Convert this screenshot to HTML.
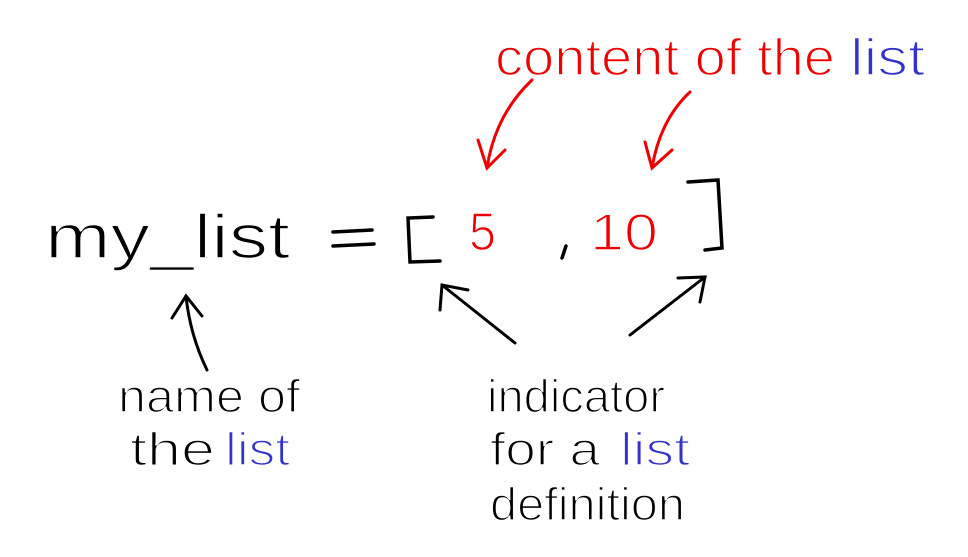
<!DOCTYPE html>
<html><head><meta charset="utf-8"><style>
html,body{margin:0;padding:0;background:#fff;}
svg{display:block;}
text{font-family:"Liberation Sans",sans-serif;stroke:#fff;stroke-width:1.6px;}
</style></head><body>
<svg width="968" height="557" viewBox="0 0 968 557" xmlns="http://www.w3.org/2000/svg">
<rect width="968" height="557" fill="#fff"/>
<text x="45" y="258" font-size="62" fill="#000" textLength="245" lengthAdjust="spacingAndGlyphs">my_list</text>
<g stroke="#000" stroke-width="3.5" fill="none" stroke-linecap="round">
<path d="M333 232 L372 230"/><path d="M333 246 L374 244"/>
<path d="M433 217 L408 218 L410 262 L440 261"/>
<path d="M688 182 L718 180 L722 248 L705 250"/>
<path d="M566 246 L562 258"/>
</g>
<text x="469" y="250" font-size="54" fill="#e00" textLength="27" lengthAdjust="spacingAndGlyphs">5</text>
<text x="590" y="250" font-size="52" fill="#e00" textLength="68" lengthAdjust="spacingAndGlyphs">10</text>
<text x="495" y="75" font-size="52" fill="#e00" textLength="340" lengthAdjust="spacingAndGlyphs">content of the</text>
<text x="850" y="75" font-size="52" fill="#33c" textLength="75" lengthAdjust="spacingAndGlyphs">list</text>
<g stroke="#e00" stroke-width="3" fill="none" stroke-linecap="round">
<path d="M532 80 Q495 115 487 168"/><path d="M478 140 L487 168 L505 150"/>
<path d="M690 92 Q660 120 652 168"/><path d="M645 142 L652 168 L672 150"/>
</g>
<g stroke="#000" stroke-width="3" fill="none" stroke-linecap="round">
<path d="M207 370 Q190 335 186 296"/><path d="M172 318 L186 296 L202 316"/>
<path d="M515 343 L442 285"/><path d="M440 310 L442 285 L468 290"/>
<path d="M630 335 L705 277"/><path d="M678 278 L705 277 L700 302"/>
</g>
<text x="118" y="412" font-size="46" fill="#000" textLength="182" lengthAdjust="spacingAndGlyphs">name of</text>
<text x="130" y="465" font-size="46" fill="#000" textLength="85" lengthAdjust="spacingAndGlyphs">the</text>
<text x="225" y="465" font-size="46" fill="#33c" textLength="65" lengthAdjust="spacingAndGlyphs">list</text>
<text x="487" y="412" font-size="46" fill="#000" textLength="178" lengthAdjust="spacingAndGlyphs">indicator</text>
<text x="490" y="465" font-size="46" fill="#000" textLength="110" lengthAdjust="spacingAndGlyphs">for a</text>
<text x="620" y="465" font-size="46" fill="#33c" textLength="70" lengthAdjust="spacingAndGlyphs">list</text>
<text x="490" y="520" font-size="46" fill="#000" textLength="195" lengthAdjust="spacingAndGlyphs">definition</text>
</svg>
</body></html>
